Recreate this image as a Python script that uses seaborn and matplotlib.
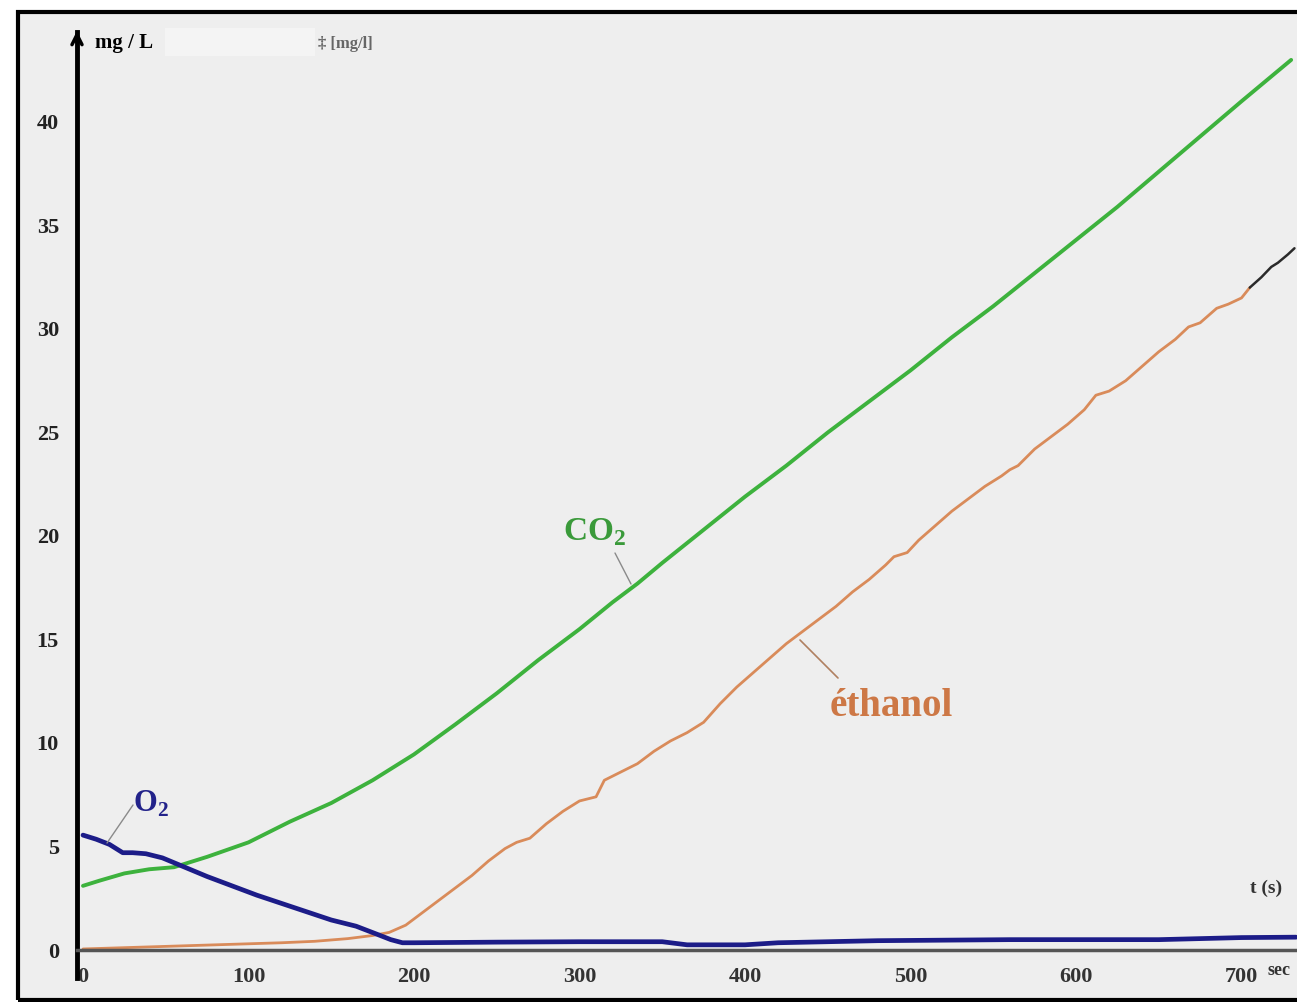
import matplotlib
matplotlib.use("Agg")
import matplotlib.pyplot as plt
import seaborn as sns
import pandas as pd
from matplotlib.patches import Rectangle

# ---------------- data ----------------
co2_t = [0, 10, 25, 40, 55, 75, 100, 125, 150, 175, 200, 225, 250, 275, 300, 320, 335,
         350, 375, 400, 425, 450, 475, 500, 525, 550, 575, 600, 625, 650, 675, 700, 715, 730]
co2 = [3.1, 3.35, 3.7, 3.9, 4.0, 4.5, 5.2, 6.2, 7.1, 8.2, 9.45, 10.9, 12.4, 14.0, 15.5, 16.8, 17.7,
       18.7, 20.3, 21.9, 23.4, 25.0, 26.5, 28.0, 29.6, 31.1, 32.7, 34.3, 35.9, 37.6, 39.3, 41.0, 42.0, 43.0]

o2_t = [0, 8, 16, 24, 30, 38, 48, 60, 75, 90, 105, 120, 135, 150, 165, 178, 186, 193, 200,
        250, 300, 350, 365, 400, 420, 480, 560, 650, 700, 733]
o2 = [5.55, 5.35, 5.1, 4.7, 4.7, 4.65, 4.45, 4.05, 3.55, 3.1, 2.65, 2.25, 1.85, 1.45, 1.15, 0.75, 0.5, 0.35, 0.35,
      0.38, 0.4, 0.4, 0.25, 0.25, 0.35, 0.45, 0.5, 0.5, 0.6, 0.62]

eth_t = [0, 20, 40, 60, 80, 100, 120, 140, 160, 175, 185, 195, 205, 215, 225, 235, 245, 255, 262,
         270, 280, 290, 300, 310, 315, 325, 335, 345, 355, 365, 375, 385, 395, 405, 415, 425, 435,
         445, 455, 465, 475, 485, 490, 498, 505, 515, 525, 535, 545, 555, 560, 565, 575, 585, 595,
         605, 612, 620, 630, 640, 650, 660, 668, 675, 685, 692, 700, 705]
eth = [0.05, 0.1, 0.15, 0.2, 0.25, 0.3, 0.35, 0.42, 0.55, 0.7, 0.85, 1.2, 1.8, 2.4, 3.0, 3.6, 4.3, 4.9, 5.2,
       5.4, 6.1, 6.7, 7.2, 7.4, 8.2, 8.6, 9.0, 9.6, 10.1, 10.5, 11.0, 11.9, 12.7, 13.4, 14.1, 14.8, 15.4,
       16.0, 16.6, 17.3, 17.9, 18.6, 19.0, 19.2, 19.8, 20.5, 21.2, 21.8, 22.4, 22.9, 23.2, 23.4, 24.2, 24.8, 25.4,
       26.1, 26.8, 27.0, 27.5, 28.2, 28.9, 29.5, 30.1, 30.3, 31.0, 31.2, 31.5, 32.0]

tail_t = [705, 712, 718, 722, 728, 732]
tail = [32.0, 32.5, 33.0, 33.2, 33.6, 33.9]

y_ticks = [0, 5, 10, 15, 20, 25, 30, 35, 40]
x_major = [0, 100, 200, 300, 400, 500, 600, 700]
x_minor = [50, 150, 250, 350, 450, 550, 650]

# ---------------- style ----------------
sns.set_style("white")
plt.rcParams['font.family'] = ['Liberation Serif', 'DejaVu Serif']
plt.rcParams['font.weight'] = 'bold'
plt.rcParams['mathtext.fontset'] = 'custom'
plt.rcParams['mathtext.bf'] = 'Liberation Serif:bold'
plt.rcParams['mathtext.rm'] = 'Liberation Serif:bold'

W, H = 1297, 1002
fig = plt.figure(figsize=(W / 100, H / 100), dpi=100)
fig.patch.set_facecolor('white')

# axes occupies the framed area (pixels)
L, T, R, B = 18, 12, 1297, 1000
ax = fig.add_axes([L / W, 1 - B / H, (R - L) / W, (B - T) / H])
ax.set_facecolor('#eeeeee')

X0PX, XSCALE = 83, 1.655     # pixel of t=0, pixels per second
Y0PX, YSCALE = 950, 20.7     # pixel of 0 mg/L, pixels per mg/L
tx = lambda px: (px - X0PX) / XSCALE
vy = lambda py: (Y0PX - py) / YSCALE

GREEN = '#3db23d'
ORANGE = '#d98b5a'
NAVY = '#1c1c88'

sns.lineplot(x=eth_t, y=eth, ax=ax, color=ORANGE, lw=2.0, sort=False)
sns.lineplot(x=tail_t, y=tail, ax=ax, color='#2a2a2a', lw=1.8, sort=False)
sns.lineplot(x=co2_t, y=co2, ax=ax, color=GREEN, lw=2.8, sort=False)
sns.lineplot(x=o2_t, y=o2, ax=ax, color=NAVY, lw=3.4, sort=False)

ax.set_yticks(y_ticks)
ax.set_yticklabels([str(v) for v in y_ticks])
ax.tick_params(axis='y', direction='inout', length=20, width=2, color='black',
               labelsize=16, pad=3, labelcolor='#222222')
ax.set_xticks(x_major)
ax.set_xticks(x_minor, minor=True)
ax.set_xticklabels([str(v) for v in x_major])
ax.tick_params(axis='x', which='both', direction='inout', length=12, width=1.6,
               color='#555555', labelsize=16, pad=6, labelcolor='#333333')
ax.get_xticklabels()[0].set_ha('left')
ax.set_xlabel('')
ax.set_ylabel('')

ax.set_xlim(tx(L), tx(R))
ax.set_ylim(vy(B), vy(T))

# spines as axes
for s in ['top', 'right']:
    ax.spines[s].set_visible(False)
yax_x = tx(77)
ax.spines['left'].set_position(('data', yax_x))
ax.spines['left'].set_linewidth(3.5)
ax.spines['left'].set_color('black')
ax.spines['left'].set_bounds(vy(978), vy(32))
ax.spines['bottom'].set_position(('data', 0))
ax.spines['bottom'].set_linewidth(2.5)
ax.spines['bottom'].set_color('#555555')
ax.spines['bottom'].set_bounds(yax_x, tx(R))

# arrow on y axis
ax.annotate('', xy=(yax_x, vy(28)), xytext=(yax_x, vy(45)),
            arrowprops=dict(arrowstyle='->', color='black', lw=2.5, mutation_scale=18),
            annotation_clip=False)

# frame
ax.add_patch(Rectangle((0, 0), 1.02, 1, transform=ax.transAxes, fill=False,
                       edgecolor='black', lw=3, clip_on=False, zorder=10))

# lighter blank box near top
ax.add_patch(Rectangle((tx(165), vy(56)), 150 / XSCALE, 28 / YSCALE,
                       facecolor='#f4f4f4', edgecolor='none', zorder=0))

# texts
ax.text(tx(95), vy(48), 'mg / L', fontsize=15, fontweight='bold', color='black',
        ha='left', va='baseline')
ax.text(tx(318), vy(48), '‡ [mg/l]', fontsize=12, fontweight='bold', color='#666666',
        ha='left', va='baseline')
ax.text(tx(1250), vy(893), 't (s)', fontsize=14, fontweight='bold', color='#333333',
        ha='left', va='baseline')
ax.text(tx(1268), vy(975), 'sec', fontsize=13, fontweight='bold', color='#333333',
        ha='left', va='baseline', clip_on=False)

ax.text(tx(133), vy(812), r'O$_{\mathbf{2}}$', fontsize=22, fontweight='bold', color='#22228a',
        ha='left', va='baseline')
ax.text(tx(563), vy(540), r'CO$_{\mathbf{2}}$', fontsize=24, fontweight='bold', color='#3a9a3a',
        ha='left', va='baseline')
ax.text(tx(830), vy(716), 'éthanol', fontsize=28, fontweight='bold', color='#cd7846',
        ha='left', va='baseline')

# pointer lines
ax.plot([tx(107), tx(133)], [vy(843), vy(805)], color='#8a8a8a', lw=1)
ax.plot([tx(615), tx(631)], [vy(553), vy(584)], color='#8a8a8a', lw=1)
ax.plot([tx(800), tx(838)], [vy(640), vy(678)], color='#b08060', lw=1.2)

fig.savefig('out.png', dpi=100, facecolor='white')
